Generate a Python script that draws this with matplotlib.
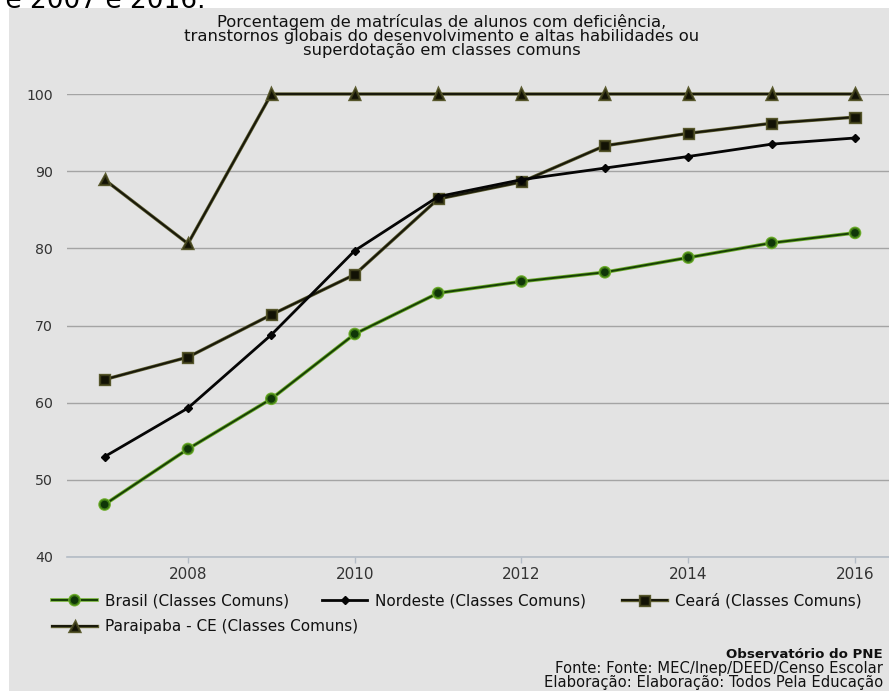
import matplotlib
matplotlib.use("Agg")
import matplotlib.pyplot as plt
from matplotlib.patches import Rectangle
import matplotlib.patheffects as pe

years = [2007, 2008, 2009, 2010, 2011, 2012, 2013, 2014, 2015, 2016]
brasil = [46.8, 54.0, 60.5, 68.9, 74.2, 75.7, 76.9, 78.8, 80.7, 82.0]
nordeste = [53.0, 59.3, 68.8, 79.7, 86.7, 88.9, 90.4, 91.9, 93.5, 94.3]
ceara = [63.0, 65.9, 71.4, 76.6, 86.4, 88.6, 93.3, 94.9, 96.2, 97.0]
paraipaba = [88.9, 80.6, 100, 100, 100, 100, 100, 100, 100, 100]

labels = ["Brasil (Classes Comuns)", "Nordeste (Classes Comuns)",
          "Ceará (Classes Comuns)", "Paraipaba - CE (Classes Comuns)"]
title = ("Porcentagem de matrículas de alunos com deficiência,\n"
         "transtornos globais do desenvolvimento e altas habilidades ou\n"
         "superdotação em classes comuns")
xticks = [2008, 2010, 2012, 2014, 2016]
yticks = [40, 50, 60, 70, 80, 90, 100]

W, H = 889, 691
plt.rcParams['font.family'] = ['DejaVu Sans']
fig = plt.figure(figsize=(W / 100, H / 100), dpi=100, facecolor="white")

# clipped header text from the surrounding page
fig.text(205 / W, 1 - 8 / H, "ntre 2007 e 2016.", ha="right", va="baseline",
         fontsize=19, color="black", zorder=0)
bg = Rectangle((9 / W, 0), 1 - 9 / W, 1 - 8 / H, transform=fig.transFigure,
               facecolor="#e3e3e3", edgecolor="none", zorder=1)
fig.patches.append(bg)

ax = fig.add_axes([67 / W, 1 - 557 / H, 1 - 67 / W, (557 - 94) / H])
ax.set_zorder(2)
ax.patch.set_alpha(0)

x0 = 2007 - (104.6 - 67) / 83.4
x1 = 2016 + (889 - 855) / 83.4
ax.set_xlim(x0, x1)
ax.set_ylim(40, 100)

for s in ["top", "right", "left"]:
    ax.spines[s].set_visible(False)
ax.spines["bottom"].set_color("#b4bcc6")
ax.spines["bottom"].set_linewidth(1.2)

ax.set_yticks(yticks)
ax.set_xticks(xticks)
ax.yaxis.grid(True, color="#a4a4a4", linewidth=1.0)
ax.set_axisbelow(True)
ax.tick_params(axis="y", length=0, pad=10, labelsize=10.2, labelcolor="#333333")
ax.tick_params(axis="x", length=4, width=1, color="#b4bcc6", pad=3,
               labelsize=11, labelcolor="#333333")

glow = [pe.Stroke(linewidth=2.6, foreground="#6fae2e"), pe.Normal()]
olive = [pe.Stroke(linewidth=2.4, foreground="#5c5c30"), pe.Normal()]

h_br, = ax.plot(years, brasil, color="#173f05", linewidth=1.4, marker="o",
                markersize=6.5, markerfacecolor="#0f3608", markeredgecolor="#3e7a14",
                markeredgewidth=1.0, path_effects=glow, label=labels[0], clip_on=False, zorder=3)
h_ne, = ax.plot(years, nordeste, color="#050505", linewidth=2.0, marker="D",
                markersize=4.5, markerfacecolor="#050505", markeredgecolor="#050505",
                label=labels[1], clip_on=False, zorder=4)
h_ce, = ax.plot(years, ceara, color="#18180a", linewidth=1.4, marker="s",
                markersize=6.5, markerfacecolor="#121205", markeredgecolor="#3a3a18",
                markeredgewidth=1.0, path_effects=olive, label=labels[2], clip_on=False, zorder=3)
h_pa, = ax.plot(years, paraipaba, color="#18180a", linewidth=1.4, marker="^",
                markersize=6.5, markerfacecolor="#121205", markeredgecolor="#3a3a18",
                markeredgewidth=1.0, path_effects=olive, label=labels[3], clip_on=False, zorder=3)

fig.text(0.497, 1 - 14 / H, title, ha="center", va="top", fontsize=11.8,
         color="#111111", linespacing=0.93, zorder=3)

# flow-layout legend: one entry per legend box
leg_items = [(h_br, labels[0], 52, 601), (h_ne, labels[1], 322, 601),
             (h_ce, labels[2], 622, 601), (h_pa, labels[3], 52, 627)]
for h, lab, px, py in leg_items:
    lg = fig.legend([h], [lab], loc="center left", bbox_to_anchor=(px / W, 1 - py / H),
                    frameon=False, fontsize=11, handlelength=2.95, handletextpad=0.5,
                    borderpad=0, borderaxespad=0, labelcolor="#111111")
    lg.set_zorder(3)

fig.text(883 / W, 1 - 654 / H, "Observatório do PNE", ha="right", va="center",
         fontsize=9.6, fontweight="bold", color="#111111", zorder=3)
fig.text(883 / W, 1 - 668.5 / H, "Fonte: Fonte: MEC/Inep/DEED/Censo Escolar", ha="right",
         va="center", fontsize=10.6, color="#111111", zorder=3)
fig.text(883 / W, 1 - 683 / H, "Elaboração: Elaboração: Todos Pela Educação", ha="right",
         va="center", fontsize=10.6, color="#111111", zorder=3)

fig.savefig("out.png", dpi=100, facecolor="white")
